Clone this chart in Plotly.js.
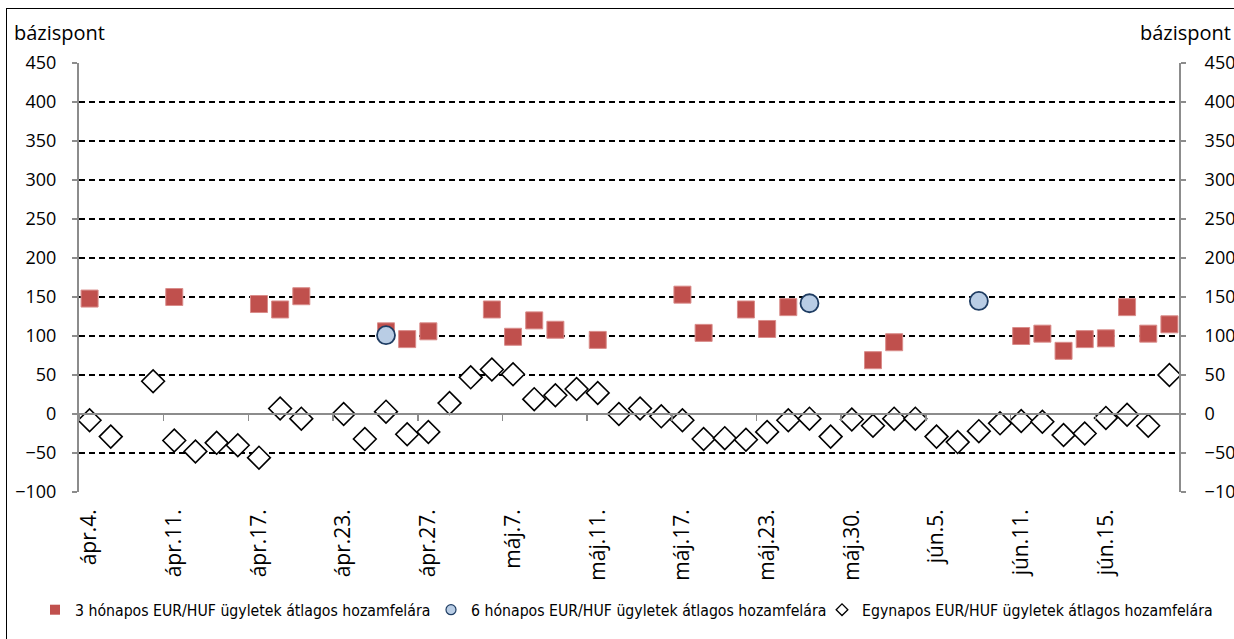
<!DOCTYPE html>
<html>
<head>
<meta charset="utf-8">
<script src="https://cdn.plot.ly/plotly-3.0.1.min.js"></script>
<style>
html,body{margin:0;padding:0;background:#fff;overflow:hidden;}
#chart{position:absolute;left:0;top:0;width:1234px;height:639px;}
#frame{position:absolute;left:6px;top:8px;width:1300px;height:700px;border-left:1.5px solid #000;border-top:1.5px solid #000;pointer-events:none;}
</style>
</head>
<body>
<div id="chart"></div>
<div id="frame"></div>
<script>
const dates = ["ápr.4.","ápr.5.","ápr.6.","ápr.10.","ápr.11.","ápr.12.","ápr.13.","ápr.16.","ápr.17.","ápr.18.","ápr.19.","ápr.20.","ápr.23.","ápr.24.","ápr.25.","ápr.26.","ápr.27.","máj.2.","máj.3.","máj.4.","máj.7.","máj.8.","máj.9.","máj.10.","máj.11.","máj.14.","máj.15.","máj.16.","máj.17.","máj.18.","máj.21.","máj.22.","máj.23.","máj.24.","máj.25.","máj.29.","máj.30.","máj.31.","jún.1.","jún.4.","jún.5.","jún.6.","jún.7.","jún.8.","jún.11.","jún.12.","jún.13.","jún.14.","jún.15.","jún.18.","jún.19.","jún.20."];

const tickLabels = ["ápr.4.","ápr.11.","ápr.17.","ápr.23.","ápr.27.","máj.7.","máj.11.","máj.17.","máj.23.","máj.30.","jún.5.","jún.11.","jún.15."];

const threeMonth = [148,null,null,null,150,null,null,null,141,134,151,null,null,null,106,96,106,null,null,134,99,120,108,null,95,null,null,null,153,104,null,134,109,137,null,null,null,69,92,null,null,null,null,null,100,103,81,96,97,137,103,115];

const sixMonth = [null,null,null,null,null,null,null,null,null,null,null,null,null,null,101,null,null,null,null,null,null,null,null,null,null,null,null,null,null,null,null,null,null,null,142,null,null,null,null,null,null,null,145,null,null,null,null,null,null,null,null,null];

const overnight = [-8,-29,null,42,-34,-48,-37,-40,-56,7,-6,null,0,-32,3,-26,-23,14,47,57,51,19,24,32,27,0,7,-3,-8,-32,-31,-33,-23,-8,-6,-29,-7,-15,-6,-6,-29,-36,-22,-12,-9,-10,-27,-25,-5,-1,-15,50];

const seriesNames = ["3 hónapos EUR/HUF ügyletek átlagos hozamfelára","6 hónapos EUR/HUF ügyletek átlagos hozamfelára","Egynapos EUR/HUF ügyletek átlagos hozamfelára"];

const yTicks = [-100,-50,0,50,100,150,200,250,300,350,400,450];
const yTitle = "bázispont";

const axisFont = {family:"Open Sans, sans-serif", size:18, color:"#000"};
const xFont = {family:"Open Sans, sans-serif", size:21, color:"#000"};
const legendFont = {family:"DejaVu Sans Condensed, Liberation Sans Narrow, sans-serif", size:15.7, color:"#000"};
const gray = "#8c8c8c";

const traces = [
  {type:"scatter", mode:"markers", x:dates, y:threeMonth, name:seriesNames[0], showlegend:false,
   marker:{symbol:"square", size:17, color:"#C0504D", line:{color:"#d98c8a", width:1}}, cliponaxis:false},
  {type:"scatter", mode:"markers", x:dates, y:sixMonth, name:seriesNames[1], showlegend:false,
   marker:{symbol:"circle", size:18, color:"#B9CDE5", line:{color:"#1F3D63", width:1.8}}, cliponaxis:false},
  {type:"scatter", mode:"markers", x:dates, y:overnight, name:seriesNames[2], showlegend:false,
   xaxis:"x2", yaxis:"y2",
   marker:{symbol:"diamond", size:17.5, color:"#FFFFFF", line:{color:"#000", width:1.6}}, cliponaxis:false},
  // legend entries
  {type:"scatter", mode:"markers", x:[null], y:[null], name:seriesNames[0], legend:"legend",
   marker:{symbol:"square", size:10, color:"#C0504D", line:{width:0}}},
  {type:"scatter", mode:"markers", x:[null], y:[null], name:seriesNames[1], legend:"legend2",
   marker:{symbol:"circle", size:10, color:"#B9CDE5", line:{color:"#1F3D63", width:1.2}}},
  {type:"scatter", mode:"markers", x:[null], y:[null], name:seriesNames[2], legend:"legend3",
   marker:{symbol:"diamond", size:9, color:"#FFFFFF", line:{color:"#000", width:1.3}}}
];

const legY = (492-610)/429;
function leg(px){
  return {orientation:"h", x:(px-79)/1101, xanchor:"left", y:legY, yanchor:"middle",
    font:legendFont, bgcolor:"rgba(0,0,0,0)", itemwidth:30};
}

const layout = {
  width:1234, height:639,
  margin:{l:79, r:54, t:63, b:147},
  paper_bgcolor:"#fff", plot_bgcolor:"#fff",
  font:{family:"Open Sans, sans-serif", size:18, color:"#000"},
  showlegend:true,
  legend:leg(35),
  legend2:leg(431),
  legend3:leg(822),
  xaxis:{type:"category", range:[-0.5,51.5], tickmode:"array", tickvals:tickLabels, ticktext:tickLabels,
    tickangle:-90, ticks:"", showline:false, showgrid:false, zeroline:false, automargin:false,
    tickfont:xFont, ticklabelstandoff:12, fixedrange:true},
  xaxis2:{type:"category", overlaying:"x", anchor:"free", position:100/550, range:[-0.5,51.5], automargin:false,
    tickson:"boundaries", tickmode:"linear", tick0:0, dtick:4, ticks:"outside", ticklen:6, tickwidth:1.5, tickcolor:gray,
    showticklabels:false, showline:true, linecolor:gray, linewidth:2, showgrid:false, zeroline:false, fixedrange:true},
  yaxis:{range:[-100,450], tickmode:"array", tickvals:yTicks, ticks:"outside", ticklen:5, tickwidth:1.5, tickcolor:gray,
    showline:true, linecolor:gray, linewidth:2, showgrid:true, gridcolor:"#000", gridwidth:1.2, griddash:"6px,4px",
    zeroline:false, tickfont:axisFont, ticklabelstandoff:12, automargin:false, fixedrange:true},
  yaxis2:{range:[-100,450], overlaying:"y", side:"right", anchor:"free", position:1, tickmode:"array", tickvals:yTicks,
    ticks:"outside", ticklen:5, tickwidth:1.5, tickcolor:gray, showline:true, linecolor:gray, linewidth:2,
    showgrid:false, zeroline:false, tickfont:axisFont, ticklabelstandoff:15, automargin:false, fixedrange:true},
  annotations:[
    {text:yTitle, xref:"paper", yref:"paper", x:(12-79)/1101, y:(492-33)/429, xanchor:"left", yanchor:"middle",
     showarrow:false, font:{family:"Open Sans, sans-serif", size:20, color:"#000"}},
    {text:yTitle, xref:"paper", yref:"paper", x:(1233-79)/1101, y:(492-33)/429, xanchor:"right", yanchor:"middle",
     showarrow:false, font:{family:"Open Sans, sans-serif", size:20, color:"#000"}}
  ]
};

Plotly.newPlot("chart", traces, layout, {staticPlot:true, displayModeBar:false});
</script>
</body>
</html>
